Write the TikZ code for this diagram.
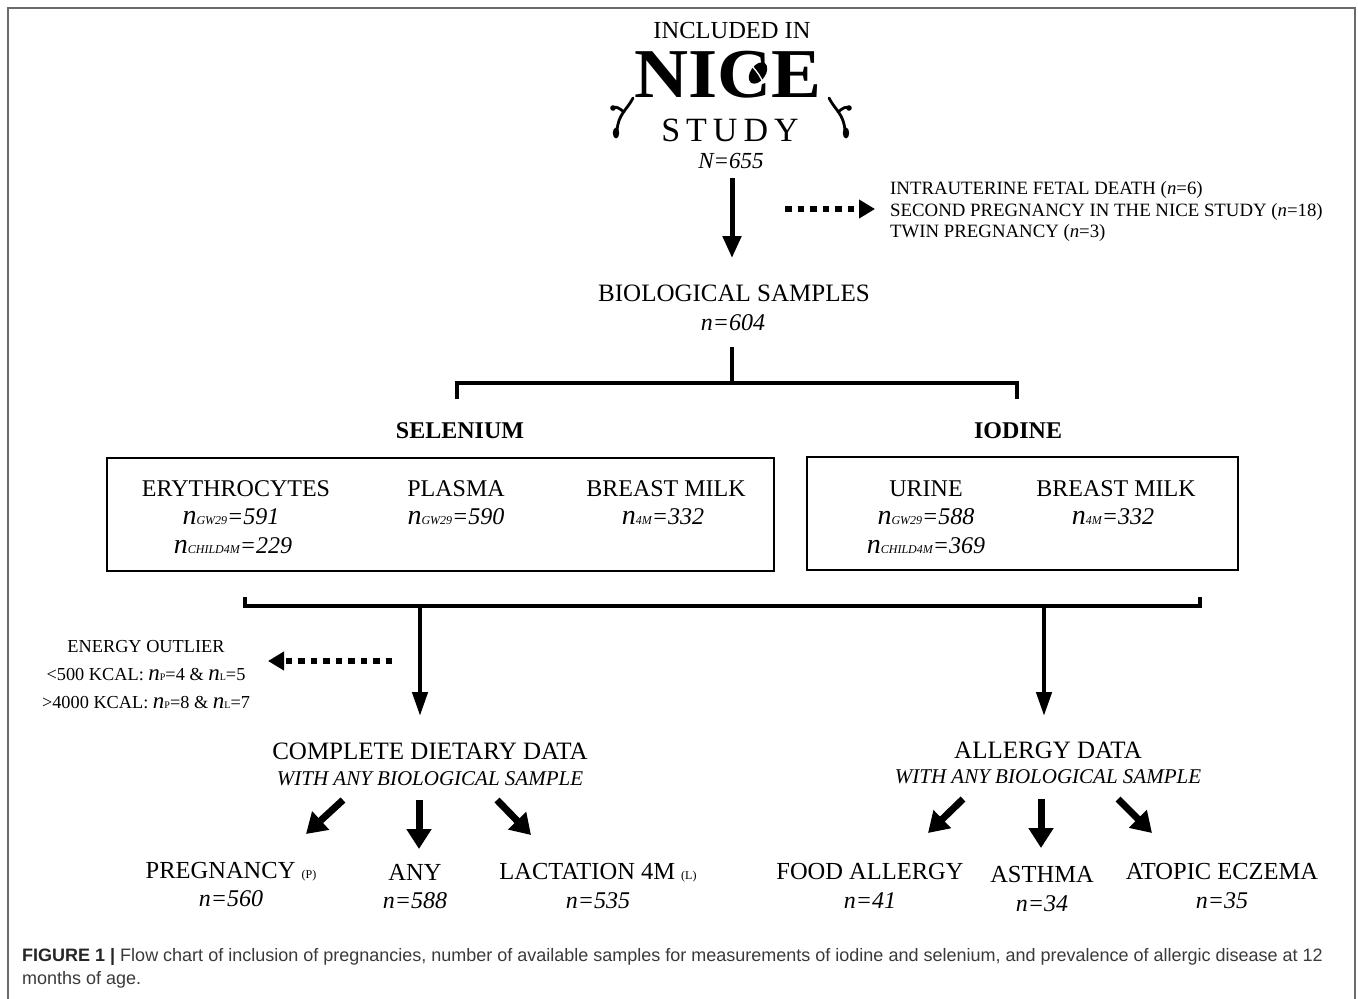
\documentclass[tikz,border=0pt]{standalone}
\usepackage{fontspec}
\setmainfont{Liberation Serif}
\newfontfamily\capfont{Liberation Sans}
\usetikzlibrary{arrows.meta}
\definecolor{framegray}{HTML}{6A6A6A}
\definecolor{captext}{HTML}{3A3A3A}
\tikzset{
  lbl/.style={anchor=base, inner sep=0pt, font=\fontsize{24.5}{28}\selectfont},
  lblb/.style={anchor=base, inner sep=0pt, font=\fontsize{24}{28}\selectfont\bfseries},
  num/.style={anchor=base, inner sep=0pt, font=\fontsize{24}{28}\selectfont\itshape},
  sub/.style={anchor=base, inner sep=0pt, font=\fontsize{21}{24}\selectfont\itshape},
  excl/.style={anchor=base west, inner sep=0pt, font=\fontsize{18.8}{22}\selectfont},
  enrg/.style={anchor=base, inner sep=0pt, font=\fontsize{18.3}{22}\selectfont},
  boxline/.style={draw=black, line width=2pt},
  bracket/.style={line width=4pt, line join=miter},
  mainarrow/.style={line width=5pt, -{Triangle[width=18pt,length=22pt]}},
  droparrow/.style={line width=4.5pt, -{Triangle[width=15pt,length=24pt]}},
  diagarrow/.style={line width=7pt, -{Triangle[width=24pt,length=20pt]}},
  dotarrow/.style={line width=6.5pt, dash pattern=on 6.5pt off 6pt, -{Triangle[width=18pt,length=16pt]}},
  vine/.style={line width=2.8pt, line cap=round},
  captxt/.style={anchor=base west, inner sep=0pt, font=\capfont\fontsize{18}{21}\selectfont, text=captext},
}
\newcommand\nsubs[2]{{\fontsize{28}{28}\selectfont\itshape n}{\fontsize{12}{12}\selectfont\itshape #1}{\fontsize{24}{28}\selectfont\itshape =#2}}
\newcommand\nsm[1]{{\fontsize{23}{23}\selectfont\itshape n}{\fontsize{10}{10}\selectfont #1}}
\begin{document}
\begin{tikzpicture}[x=1pt,y=-1pt]
\useasboundingbox (0,0) rectangle (1358,999);
\fill[white] (0,0) rectangle (1358,999);
% outer frame
\draw[framegray, line width=2pt] (7.5,999) -- (7.5,8) -- (1355,8) -- (1355,999);

% logo
\node[anchor=base, inner sep=0pt, font=\fontsize{24.5}{26}\selectfont] (inc) at (732,38) {INCLUDED IN};
\node[anchor=base, inner sep=0pt, font=\fontsize{70}{70}\selectfont\bfseries] (nice) at (728,97) {\scalebox{1.07}[1]{NICE}};
\fill[black, rotate around={-35:(758,73)}] (758,73) ellipse (7.5pt and 12pt);
\draw[white, line width=1.3pt] (752,66) .. controls (757,72) and (761,76) .. (763,84);
\node[anchor=base, inner sep=0pt, font=\fontsize{34}{34}\selectfont] (study) at (730,141) {S\hspace{6pt}T\hspace{6pt}U\hspace{6pt}D\hspace{6pt}Y};
\node[anchor=base, inner sep=0pt, font=\fontsize{23}{26}\selectfont\itshape] (n655) at (731,168) {N=655};
% vines
\draw[vine] (633,98) .. controls (627,110) and (618,114) .. (617,131);
\draw[vine] (624,112) .. controls (619,108) and (616,106) .. (613,108);
\fill (613,108) circle (2.8pt);
\fill (616,133) ellipse (3.2pt and 5.5pt);
\draw[vine] (829,98) .. controls (835,110) and (844,114) .. (845,131);
\draw[vine] (838,112) .. controls (843,108) and (846,106) .. (849,108);
\fill (849,108) circle (2.8pt);
\fill (846,133) ellipse (3.2pt and 5.5pt);

% exclusion
\coordinate (a1s) at (732,178);
\coordinate (a1e) at (732,258);
\draw[mainarrow] (a1s) -- (a1e);
\coordinate (d1s) at (785,209);
\coordinate (d1e) at (875,209);
\draw[dotarrow] (d1s) -- (d1e);
\node[excl] (ex1) at (890,194) {INTRAUTERINE FETAL DEATH (\textit{n}=6)};
\node[excl] (ex2) at (890,216) {SECOND PREGNANCY IN THE NICE STUDY (\textit{n}=18)};
\node[excl] (ex3) at (890,237) {TWIN PREGNANCY (\textit{n}=3)};

% biological samples
\node[lbl, font=\fontsize{25}{28}\selectfont] (bio) at (734,301) {BIOLOGICAL SAMPLES};
\node[num] (n604) at (733,330) {n=604};
\coordinate (stemtop) at (732,347);
\coordinate (stembot) at (732,383);
\draw[bracket] (stemtop) -- (stembot);
\draw[bracket] (457,399) -- (457,383) -- (1017,383) -- (1017,399);

\node[lblb] (sel) at (460,438) {SELENIUM};
\node[lblb] (iod) at (1018,438) {IODINE};

% boxes
\draw[boxline] (107,458) rectangle (774,571);
\draw[boxline] (807,457) rectangle (1238,570);
\node[lbl, font=\fontsize{24}{28}\selectfont] (ery) at (236,496) {ERYTHROCYTES};
\node[anchor=base, inner sep=0pt] (ery1) at (231,524) {\nsubs{GW29}{591}};
\node[anchor=base, inner sep=0pt] (ery2) at (233,553) {\nsubs{CHILD4M}{229}};
\node[lbl, font=\fontsize{24}{28}\selectfont] (pla) at (456,496) {PLASMA};
\node[anchor=base, inner sep=0pt] (pla1) at (456,524) {\nsubs{GW29}{590}};
\node[lbl, font=\fontsize{24}{28}\selectfont] (bm1) at (666,496) {BREAST MILK};
\node[anchor=base, inner sep=0pt] (bm11) at (663,524) {\nsubs{4M}{332}};
\node[lbl, font=\fontsize{24}{28}\selectfont] (uri) at (926,496) {URINE};
\node[anchor=base, inner sep=0pt] (uri1) at (926,524) {\nsubs{GW29}{588}};
\node[anchor=base, inner sep=0pt] (uri2) at (926,553) {\nsubs{CHILD4M}{369}};
\node[lbl, font=\fontsize{24}{28}\selectfont] (bm2) at (1116,496) {BREAST MILK};
\node[anchor=base, inner sep=0pt] (bm21) at (1113,524) {\nsubs{4M}{332}};

% lower bracket
\draw[bracket] (245,597) -- (245,606) -- (1200,606) -- (1200,597);
\coordinate (dl) at (420,606);
\coordinate (dr) at (1044,606);
\coordinate (dle) at (420,716);
\coordinate (dre) at (1044,716);
\draw[droparrow] (dl) -- (dle);
\draw[droparrow] (dr) -- (dre);

% energy outlier
\coordinate (d2s) at (392,661);
\coordinate (d2e) at (268,661);
\draw[dotarrow] (d2s) -- (d2e);
\node[enrg] (en1) at (146,652) {ENERGY OUTLIER};
\node[enrg] (en2) at (146,680) {<500 KCAL: \nsm{P}=4 \& \nsm{L}=5};
\node[enrg] (en3) at (146,708) {>4000 KCAL: \nsm{P}=8 \& \nsm{L}=7};

% dietary
\node[lbl, font=\fontsize{25}{28}\selectfont] (diet) at (430,759) {COMPLETE DIETARY DATA};
\node[sub] (diet2) at (430,785) {WITH ANY BIOLOGICAL SAMPLE};
\draw[diagarrow] (343,800) -- (306,834);
\draw[diagarrow] (419,800) -- (419,849);
\draw[diagarrow] (497,800) -- (531,835);
\node[lbl] (preg) at (231,878) {PREGNANCY {\fontsize{12}{12}\selectfont (P)}};
\node[num] (n560) at (231,906) {n=560};
\node[lbl] (any) at (415,880) {ANY};
\node[num] (n588) at (415,908) {n=588};
\node[lbl] (lac) at (598,879) {LACTATION 4M {\fontsize{12}{12}\selectfont (L)}};
\node[num] (n535) at (598,908) {n=535};

% allergy
\node[lbl, font=\fontsize{25}{28}\selectfont] (all) at (1048,758) {ALLERGY DATA};
\node[sub] (all2) at (1048,783) {WITH ANY BIOLOGICAL SAMPLE};
\draw[diagarrow] (963,799) -- (928,833);
\draw[diagarrow] (1041,799) -- (1041,848);
\draw[diagarrow] (1118,799) -- (1152,833);
\node[lbl] (food) at (870,879) {FOOD ALLERGY};
\node[num] (n41) at (870,908) {n=41};
\node[lbl] (ast) at (1042,882) {ASTHMA};
\node[num] (n34) at (1042,911) {n=34};
\node[lbl] (ato) at (1222,879) {ATOPIC ECZEMA};
\node[num] (n35) at (1222,908) {n=35};

% caption
\node[captxt] (cap1) at (22,961) {\textbf{\color{black!85}FIGURE 1 |} Flow chart of inclusion of pregnancies, number of available samples for measurements of iodine and selenium, and prevalence of allergic disease at 12};
\node[captxt] (cap2) at (22,984) {months of age.};
\end{tikzpicture}
\end{document}
